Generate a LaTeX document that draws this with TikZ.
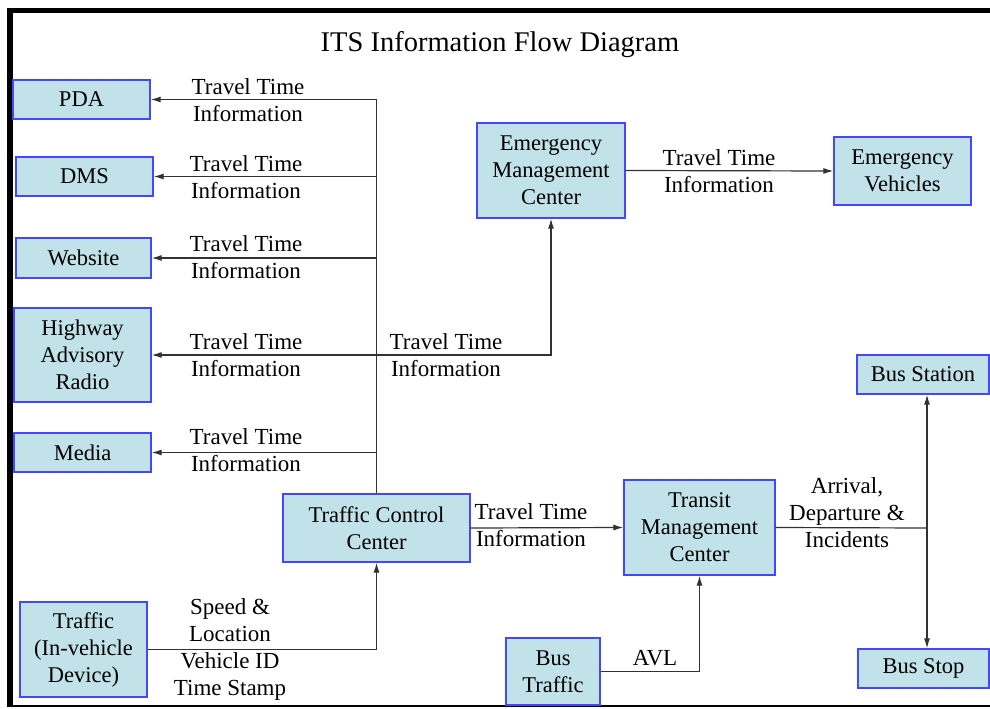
\documentclass[tikz,border=0pt]{standalone}
\usepackage{fontspec}
\setmainfont{Liberation Serif}
\usetikzlibrary{arrows.meta}
\definecolor{boxfill}{RGB}{192,226,232}
\definecolor{boxline}{RGB}{70,70,250}
\definecolor{conn}{RGB}{50,50,50}
\tikzset{
  unitbox/.style={draw=boxline, line width=1.3pt, fill=boxfill, align=center, inner sep=0pt,
    font=\fontsize{22.5}{27}\selectfont},
  lbl/.style={align=center, inner sep=0pt, font=\fontsize{23}{27}\selectfont},
  wire/.style={draw=conn, line width=1.2pt},
  arr/.style={wire, -{Latex[length=10pt,width=6pt]}}
}
\begin{document}
\begin{tikzpicture}[x=1pt,y=-1pt]
\useasboundingbox (0,0) rectangle (990,709);
% frame
\fill[white] (0,0) rectangle (990,709);
\fill[black] (7,8) rectangle (990,13);
\fill[black] (7,8) rectangle (13,707);
\draw[line width=1.5pt] (13,706) -- (990,706);
% title
\node[lbl, font=\fontsize{28.5}{34}\selectfont] (title) at (500,45) {ITS Information Flow Diagram};
% boxes
\node[unitbox, minimum width=137pt, minimum height=39pt] (pda) at (81.5,99.5) {PDA};
\node[unitbox, minimum width=137pt, minimum height=39pt] (dms) at (84.5,176.5) {DMS};
\node[unitbox, minimum width=135pt, minimum height=40pt] (web) at (83.5,258) {Website};
\node[unitbox, minimum width=137pt, minimum height=94pt] (har) at (82.5,355) {Highway\\Advisory\\Radio};
\node[unitbox, minimum width=137pt, minimum height=39pt] (media) at (82.5,452.5) {Media};
\node[unitbox, minimum width=187pt, minimum height=68pt] (tcc) at (376.5,528) {Traffic Control\\Center};
\node[unitbox, minimum width=127pt, minimum height=95pt] (dev) at (83.5,649.5) {Traffic\\(In-vehicle\\Device)};
\node[unitbox, minimum width=148pt, minimum height=95pt] (emc) at (551,170.5) {Emergency\\Management\\Center};
\node[unitbox, minimum width=137pt, minimum height=68pt] (ev) at (902.5,171) {Emergency\\Vehicles};
\node[unitbox, minimum width=151pt, minimum height=95pt] (tmc) at (699.5,527.5) {Transit\\Management\\Center};
\node[unitbox, minimum width=94pt, minimum height=67pt] (bt) at (553,671.5) {Bus\\Traffic};
\node[unitbox, minimum width=132pt, minimum height=39pt] (bstation) at (923,374.5) {Bus Station};
\node[unitbox, minimum width=131pt, minimum height=39pt] (bstop) at (923.5,668.5) {Bus Stop};
% connectors
\coordinate (trunktop) at (tcc.north |- pda.east);
\draw[wire] (tcc.north) -- (trunktop);
\draw[arr] (trunktop) -- (pda.east);
\draw[arr] (tcc.north |- dms.east) -- (dms.east);
\draw[arr] (tcc.north |- web.east) -- (web.east);
\draw[arr] (tcc.north |- har.east) -- (har.east);
\draw[arr] (tcc.north |- media.east) -- (media.east);
\draw[arr] (tcc.north |- har.east) -| (emc.south);
\draw[arr] (emc.east) -- (ev.west);
\draw[arr] (tcc.east) -- (tmc.west);
\coordinate (junc) at (927,528);
\draw[wire] (tmc.east) -- (junc);
\draw[arr] (junc) -- (junc |- bstation.south);
\draw[arr] (junc) -- (junc |- bstop.north);
\draw[arr] (dev.east) -| (tcc.south);
\draw[arr] (bt.east) -| (tmc.south);
% labels
\node[lbl] (l1) at (248,100) {Travel Time\\Information};
\node[lbl] (l2) at (246,177) {Travel Time\\Information};
\node[lbl] (l3) at (246,257) {Travel Time\\Information};
\node[lbl] (l4) at (246,355) {Travel Time\\Information};
\node[lbl] (l5) at (246,450) {Travel Time\\Information};
\node[lbl] (l6) at (446,355) {Travel Time\\Information};
\node[lbl] (l7) at (719,171) {Travel Time\\Information};
\node[lbl] (l8) at (531,525) {Travel Time\\Information};
\node[lbl] (l9) at (847,513) {Arrival,\\Departure \&\\Incidents};
\node[lbl] (l10) at (230,649) {Speed \&\\Location\\Vehicle ID\\Time Stamp};
\node[lbl] (l11) at (655,658) {AVL};
\end{tikzpicture}
\end{document}
